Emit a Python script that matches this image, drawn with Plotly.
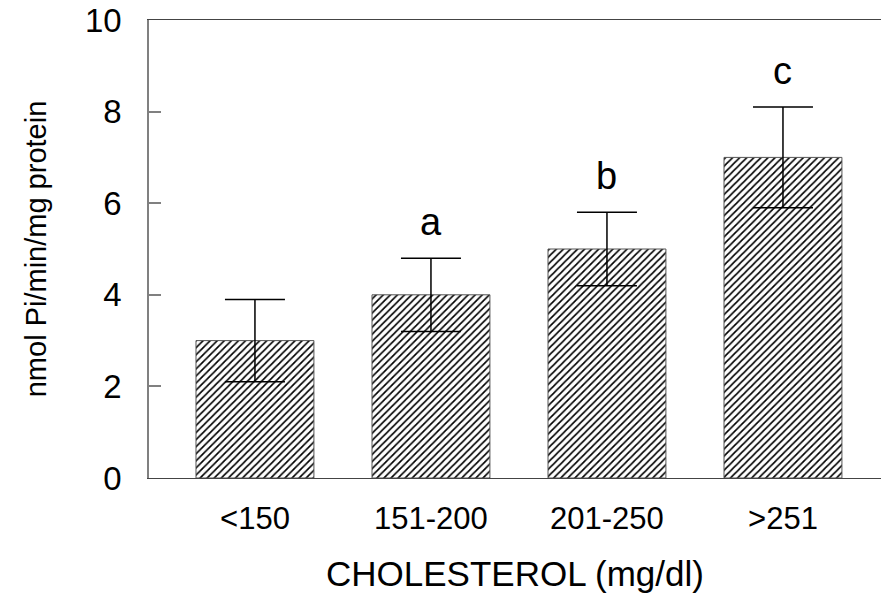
import plotly.graph_objects as go

categories = ["<150", "151-200", "201-250", ">251"]
means = [3.0, 4.0, 5.0, 7.0]
errors = [0.9, 0.8, 0.8, 1.1]
letters = ["", "a", "b", "c"]
y_ticks = [0, 2, 4, 6, 8, 10]

ARIAL = "Liberation Sans, Arial, sans-serif"

fig = go.Figure()
fig.add_trace(go.Bar(
    x=categories, y=means, width=0.67,
    marker=dict(color="white", line=dict(color="#555555", width=1),
                pattern=dict(shape="/", size=5, solidity=0.33,
                             fgcolor="black", bgcolor="white", fillmode="replace")),
    error_y=dict(type="data", array=errors, visible=True, color="black",
                 thickness=1.5, width=30),
    showlegend=False,
))

for c, m, e, t in zip(categories, means, errors, letters):
    if t:
        fig.add_annotation(x=c, y=m + e, text=t, showarrow=False,
                           yanchor="middle", yshift=36,
                           font=dict(family=ARIAL, size=38, color="black"))

fig.update_layout(
    width=881, height=605,
    margin=dict(l=149, r=0, t=20, b=127),
    paper_bgcolor="white", plot_bgcolor="white",
    xaxis=dict(range=[-0.602, 3.557], showline=True, linecolor="#444444",
               linewidth=1, mirror=True, ticks="", showgrid=False,
               ticklabelstandoff=13,
               tickfont=dict(family=ARIAL, size=31, color="black"),
               title=dict(text="CHOLESTEROL (mg/dl)", standoff=26,
                          font=dict(family=ARIAL, size=35, color="black"))),
    yaxis=dict(range=[0, 10], tickvals=y_ticks, showline=True,
               linecolor="#808080", linewidth=1.5, ticks="inside", ticklen=12,
               tickcolor="#808080", tickwidth=1.5, showgrid=False, zeroline=False,
               tickfont=dict(family=ARIAL, size=33, color="black"),
               ticklabelstandoff=19,
               title=dict(text="nmol Pi/min/mg protein", standoff=30,
                          font=dict(family=ARIAL, size=29, color="black"))),
)

fig.write_html("out.html")
